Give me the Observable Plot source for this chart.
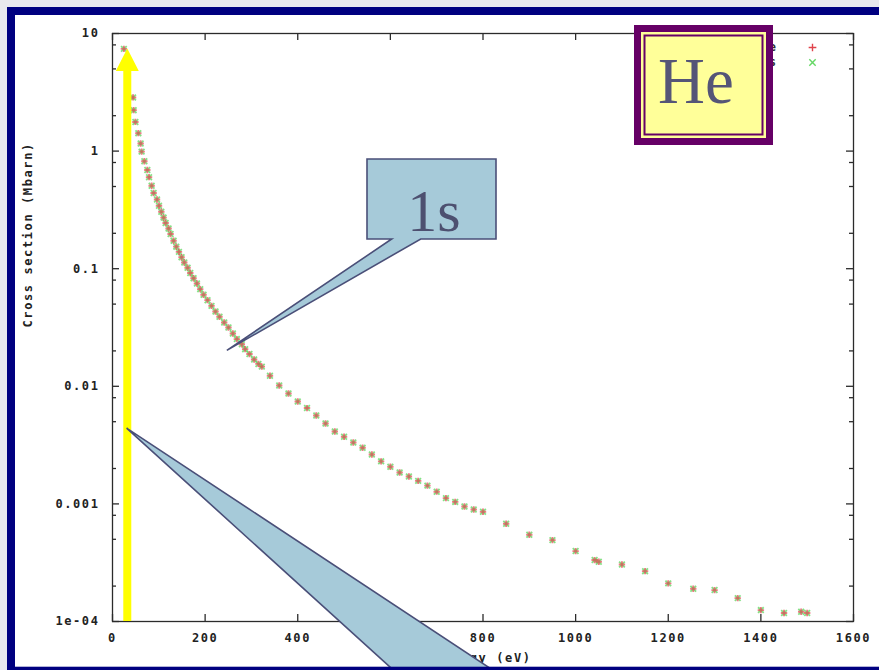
<!DOCTYPE html>
<html>
<head>
<meta charset="utf-8">
<script src="https://cdn.jsdelivr.net/npm/d3@7"></script>
<script src="https://cdn.jsdelivr.net/npm/@observablehq/plot@0.6"></script>
<style>
  html, body { margin: 0; padding: 0; background: #e9e9ee; }
  #chart { width: 879px; height: 670px; overflow: hidden; }
  #chart svg { display: block; }
</style>
</head>
<body>
<div id="chart"></div>
<script>
// Helium photo-ionisation cross section, 1s shell
const energyEV = [
  24.6, 44.4, 45.7, 49.4, 55.8, 60.8, 62.9, 68.8, 75.2, 78.9, 84.5, 88.8, 96.1, 100.4,
  105.4, 110.3, 114.7, 121.1, 125.4, 131.9, 137.7, 143.5, 149.1, 155, 162.1, 167.9, 175,
  182.3, 189.4, 196.6, 205.2, 213.8, 222.4, 231, 241.2, 250.4, 259.9, 268.5, 279.3, 286.4,
  295.7, 305.8, 315.1, 322.4, 340, 360, 380, 400, 420, 440, 460, 480, 500, 520, 540, 560,
  580, 600, 620, 640, 660, 680, 700, 720, 740, 760, 780, 800, 850, 900, 950, 1000, 1041,
  1050, 1100, 1150, 1200, 1254, 1300, 1350, 1400, 1450, 1487, 1500
];
const crossSectionMbarn = [
  7.4, 2.86, 2.23, 1.77, 1.42, 1.16, 0.99, 0.82, 0.69, 0.60, 0.507, 0.44, 0.388, 0.343,
  0.305, 0.272, 0.245, 0.220, 0.197, 0.173, 0.154, 0.139, 0.125, 0.113, 0.102, 0.092, 0.083,
  0.0748, 0.067, 0.060, 0.054, 0.0483, 0.0432, 0.039, 0.0349, 0.0316, 0.0281, 0.0252, 0.0228, 0.0207,
  0.0188, 0.0169, 0.0155, 0.0147, 0.0123, 0.01016, 0.00869, 0.00743, 0.00653, 0.00565, 0.00483, 0.00413, 0.00372, 0.00333, 0.0030, 0.00263,
  0.0023, 0.00207, 0.00185, 0.00171, 0.00157, 0.00143, 0.00127, 0.00112, 0.00104, 0.00095, 0.000896, 0.000857, 0.000678, 0.000546, 0.000492, 0.000397, 0.000333,
  0.000322, 0.000305, 0.000268, 0.000211, 0.00019, 0.000185, 0.000158, 0.000125, 0.000118, 0.000121, 0.000118
];
const seriesNames = ["Reference", "Geant4 results"];
const seriesColors = ["#e0434b", "#66d866"];

const xTickValues = [0, 200, 400, 600, 800, 1000, 1200, 1400, 1600];
const yTickValues = [1e-4, 1e-3, 1e-2, 0.1, 1, 10];
const yTickLabels = ["1e-04", "0.001", "0.01", "0.1", "1", "10"];
const yMinorFactors = [2, 5, 8];

const xLabel = "Energy (eV)";
const yLabel = "Cross section (Mbarn)";

// threshold arrow and callout targets, in data units
const thresholdArrow = {energy: 33, bottom: 1e-4, headBase: 4.75, tip: 7.4};
const shellCallout = {text: "1s", energy: 248, value: 0.020};
const lowerCallout = {energy: 31.5, value: 0.00437};
const elementName = "He";

const rows = energyEV.map((e, i) => ({energy: e, sigma: crossSectionMbarn[i]}));
const yMinor = yTickValues.slice(0, -1).flatMap(d => yMinorFactors.map(f => d * f));

const W = 879, H = 670;
const M = {top: 33, right: 26, bottom: 49, left: 112};
const FW = W - M.left - M.right, FH = H - M.top - M.bottom;
const ink = "#2b2b2b";

const chart = Plot.plot({
  width: W, height: H,
  marginTop: M.top, marginRight: M.right, marginBottom: M.bottom, marginLeft: M.left,
  style: {
    background: "#e9e9ee",
    fontFamily: "'DejaVu Sans Mono', monospace",
    fontSize: "12px",
    fontWeight: "bold",
    letterSpacing: "1.6px",
    color: "#222"
  },
  x: {domain: [0, 1600], ticks: xTickValues, tickFormat: d3.format("d"), tickSize: 0, tickPadding: 12, label: null},
  y: {type: "log", domain: [1e-4, 10], ticks: yTickValues,
      tickFormat: d => yTickLabels[yTickValues.indexOf(d)], tickSize: 0, tickPadding: 13, label: null},
  marks: [
    Plot.frame({stroke: ink, strokeWidth: 1.3}),
    // inward ticks on all four sides
    Plot.ruleY(yTickValues, {y: d => d, insetRight: FW - 7, stroke: ink, strokeWidth: 1.3}),
    Plot.ruleY(yTickValues, {y: d => d, insetLeft: FW - 7, stroke: ink, strokeWidth: 1.3}),
    Plot.ruleY(yMinor, {y: d => d, insetRight: FW - 4, stroke: ink, strokeWidth: 1.3}),
    Plot.ruleY(yMinor, {y: d => d, insetLeft: FW - 4, stroke: ink, strokeWidth: 1.3}),
    Plot.ruleX(xTickValues, {x: d => d, insetTop: FH - 7, stroke: ink, strokeWidth: 1.3}),
    Plot.ruleX(xTickValues, {x: d => d, insetBottom: FH - 7, stroke: ink, strokeWidth: 1.3}),
    // axis titles
    Plot.text([yLabel], {frameAnchor: "left", rotate: -90, dx: -84, lineAnchor: "middle", fill: "#222"}),
    Plot.text([xLabel], {frameAnchor: "bottom", dy: 37, lineAnchor: "middle", fill: "#222"}),
    // the two series
    Plot.dot(rows, {x: "energy", y: "sigma", symbol: "times", r: 2.7, stroke: seriesColors[1], strokeOpacity: 0.8, strokeWidth: 1.8}),
    Plot.dot(rows, {x: "energy", y: "sigma", symbol: "plus", r: 2.2, stroke: seriesColors[0], strokeOpacity: 0.68, strokeWidth: 1.9}),
    // key
    Plot.text([seriesNames[0]], {frameAnchor: "top-right", dx: -76, dy: 14, textAnchor: "end", lineAnchor: "middle", fill: "#333"}),
    Plot.text([seriesNames[1]], {frameAnchor: "top-right", dx: -76, dy: 29, textAnchor: "end", lineAnchor: "middle", fill: "#333"}),
    Plot.dot([0], {frameAnchor: "top-right", dx: -41, dy: 14, symbol: "plus", r: 2.6, stroke: seriesColors[0], strokeWidth: 1.4}),
    Plot.dot([0], {frameAnchor: "top-right", dx: -41, dy: 29, symbol: "times", r: 3, stroke: seriesColors[1], strokeWidth: 1.4})
  ]
});

document.getElementById("chart").appendChild(chart);

const sx = chart.scale("x"), sy = chart.scale("y");
const svg = d3.select(chart);

// white slide surface behind the plot
svg.insert("rect", ":first-child")
  .attr("x", 15).attr("y", 15).attr("width", W).attr("height", 652)
  .attr("fill", "#ffffff");

const overlay = svg.append("g").style("letter-spacing", "0px").style("font-weight", "normal");

// yellow threshold arrow
{
  const ax = sx.apply(thresholdArrow.energy);
  const yb = sy.apply(thresholdArrow.bottom);
  const yh = sy.apply(thresholdArrow.headBase);
  const yt = sy.apply(thresholdArrow.tip);
  const pts = [[ax - 4, yb], [ax - 4, yh], [ax - 11.5, yh], [ax, yt], [ax + 11.5, yh], [ax + 4, yh], [ax + 4, yb]];
  overlay.append("polygon").attr("points", pts.map(p => p.join(",")).join(" ")).attr("fill", "#ffff00");
}

const calloutFill = "#a6cad9", calloutStroke = "#4a4f78";

// "1s" callout
{
  const tx = sx.apply(shellCallout.energy), ty = sy.apply(shellCallout.value);
  const x0 = 367, x1 = 496, y0 = 159, y1 = 239;
  overlay.append("path")
    .attr("d", `M${x0},${y0}H${x1}V${y1}H420.7L${tx},${ty}L391.7,${y1}H${x0}Z`)
    .attr("fill", calloutFill).attr("stroke", calloutStroke).attr("stroke-width", 1.6)
    .attr("stroke-linejoin", "miter");
  overlay.append("text")
    .attr("x", 434).attr("y", 231)
    .attr("text-anchor", "middle")
    .attr("font-family", "'Liberation Serif', 'Times New Roman', serif")
    .attr("font-size", 60)
    .attr("fill", "#4d5070")
    .text(shellCallout.text);
}

// lower callout, its body sits below the slide edge
{
  const tx = sx.apply(lowerCallout.energy), ty = sy.apply(lowerCallout.value);
  const ext = (bx, by) => [tx + (bx - tx) * (720 - ty) / (by - ty), 720];
  const a = ext(393.3, 670), b = ext(492.7, 670);
  overlay.append("path")
    .attr("d", `M${tx},${ty}L${a[0]},${a[1]}L${b[0]},${b[1]}Z`)
    .attr("fill", calloutFill).attr("stroke", calloutStroke).attr("stroke-width", 1.6);
}

// element tag
{
  const g = overlay.append("g");
  g.append("rect").attr("x", 634).attr("y", 25).attr("width", 139).attr("height", 120).attr("fill", "#660066");
  g.append("rect").attr("x", 641).attr("y", 32).attr("width", 125).attr("height", 106).attr("fill", "#ffff99");
  g.append("rect").attr("x", 644.5).attr("y", 35.5).attr("width", 118).attr("height", 99)
    .attr("fill", "#ffff99").attr("stroke", "#660066").attr("stroke-width", 2);
  g.append("text")
    .attr("x", 696).attr("y", 103)
    .attr("text-anchor", "middle")
    .attr("font-family", "'Liberation Serif', 'Times New Roman', serif")
    .attr("font-size", 65)
    .attr("fill", "#555577")
    .text(elementName);
}

// navy slide border on top
svg.append("rect")
  .attr("x", 11).attr("y", 11).attr("width", W + 40).attr("height", 659.7)
  .attr("fill", "none").attr("stroke", "#000080").attr("stroke-width", 8);
</script>
</body>
</html>
